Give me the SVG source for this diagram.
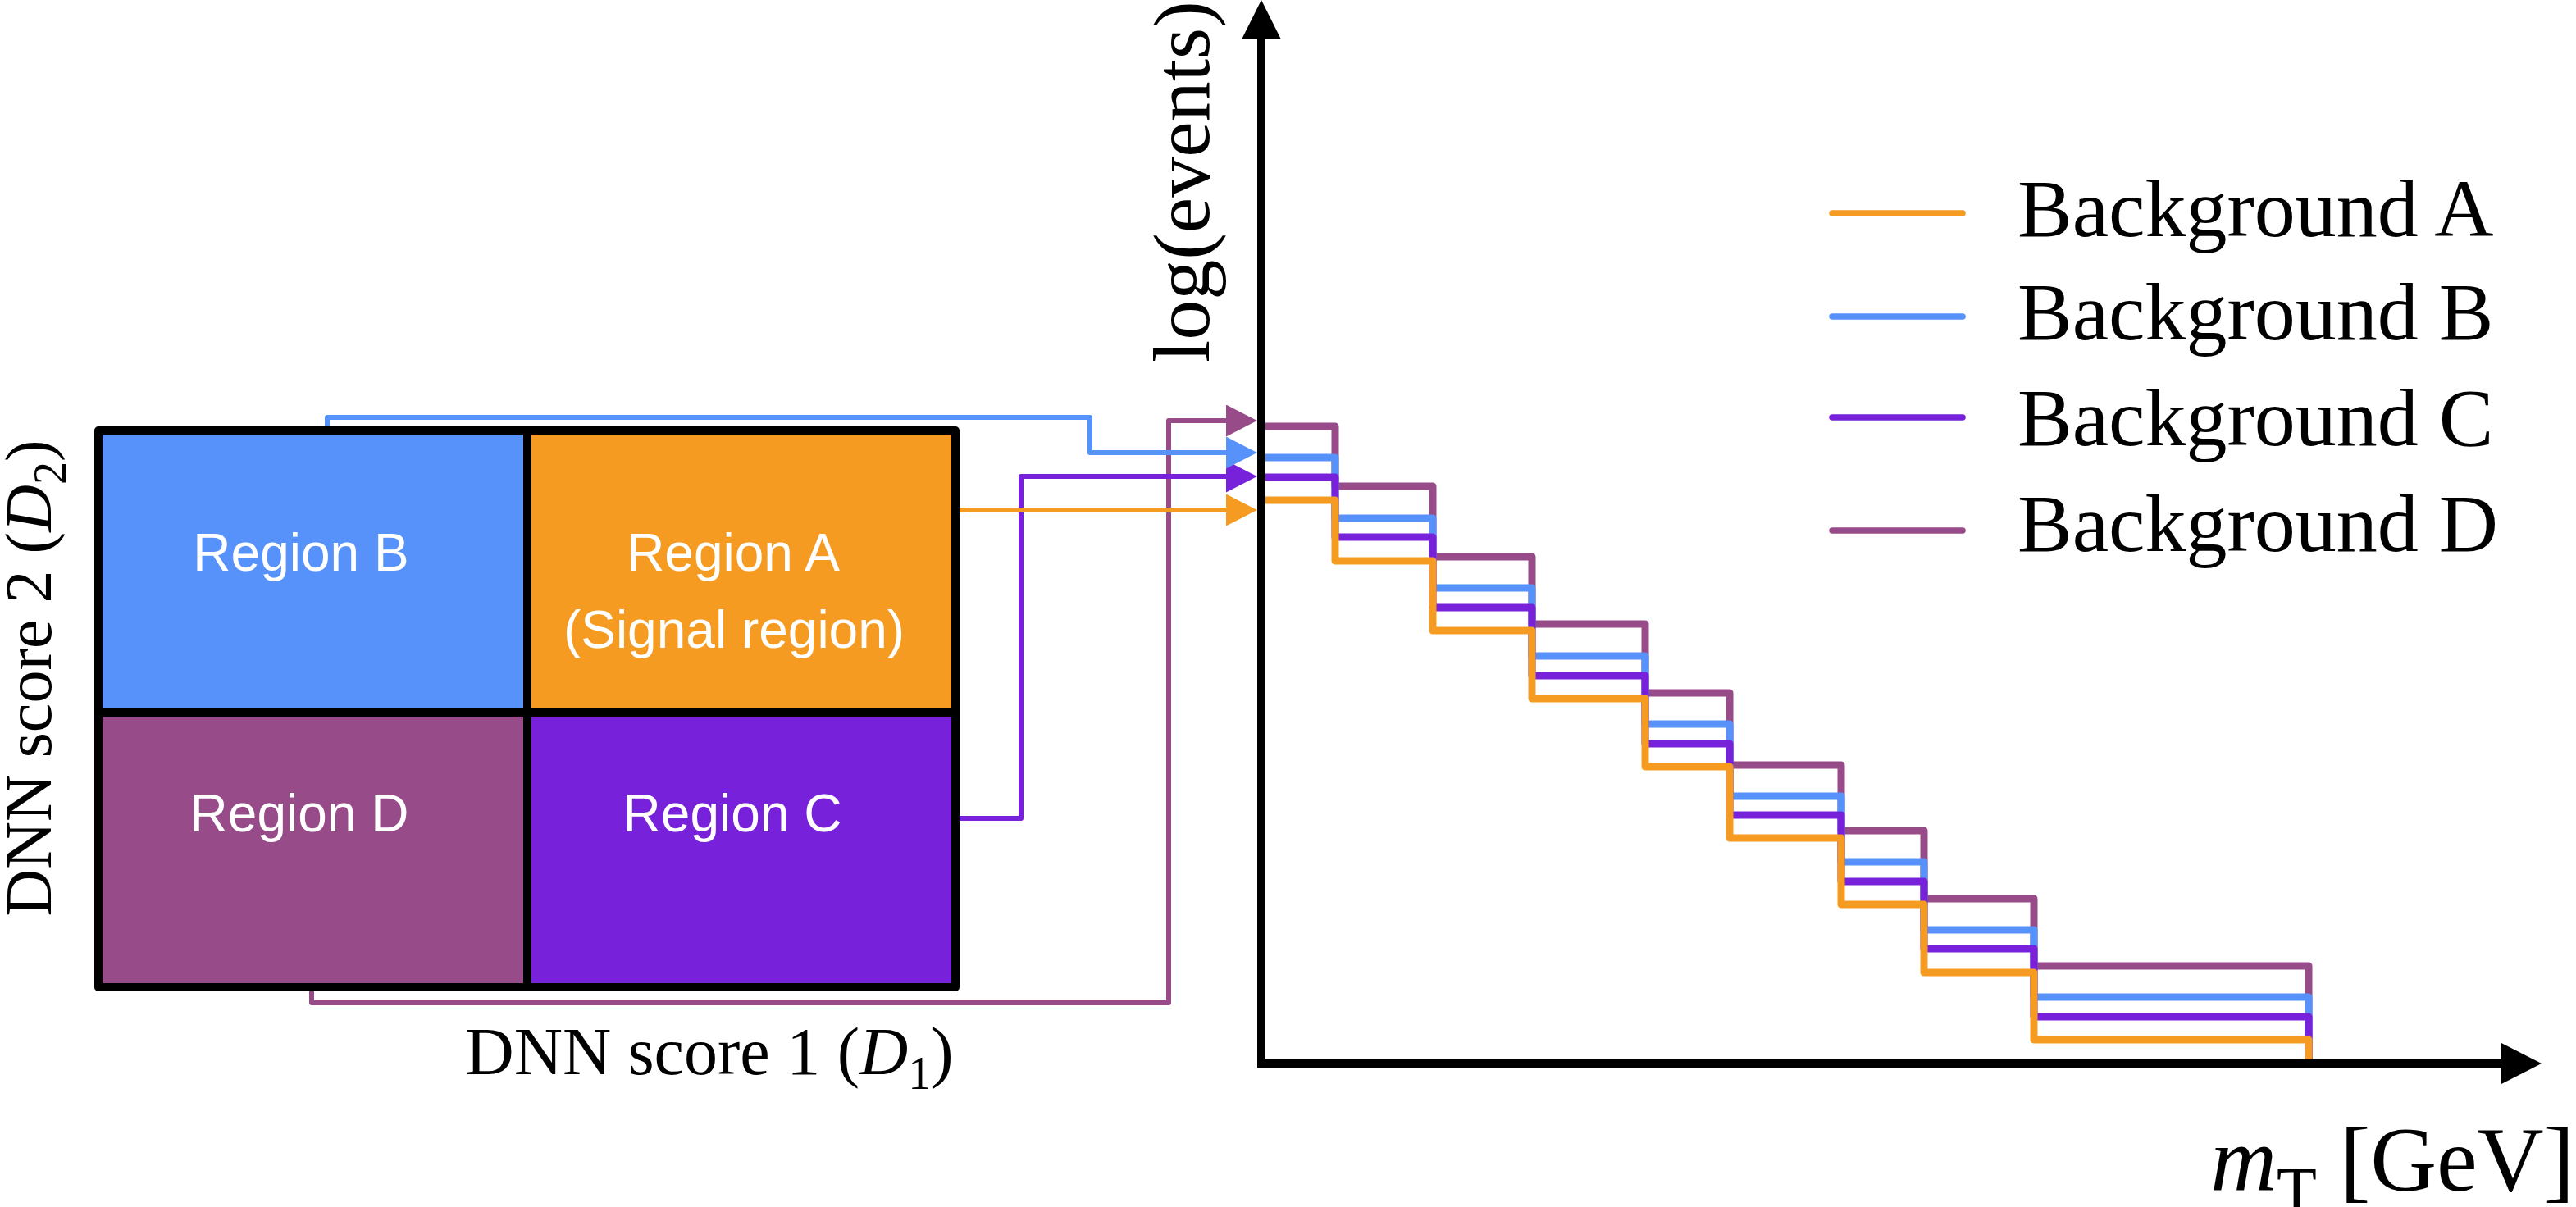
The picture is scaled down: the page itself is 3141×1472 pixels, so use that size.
<svg xmlns="http://www.w3.org/2000/svg" width="3141" height="1472" viewBox="0 0 3141 1472">
<style>
.rl{font-family:"Liberation Sans",Arial,sans-serif;font-size:64px;fill:#fff;text-anchor:middle}
.serif{font-family:"Liberation Serif","Times New Roman",serif;fill:#000}
.conn{fill:none;stroke-width:6;stroke-linejoin:round}
.hist{fill:none;stroke-width:9;stroke-linejoin:round;stroke-linecap:butt}
.leg{stroke-width:7.5;stroke-linecap:round}
.cA{stroke:#F59B22}.cB{stroke:#5692F9}.cC{stroke:#7722DA}.cD{stroke:#974B89}
</style>
<defs>
<marker id="arA" markerUnits="userSpaceOnUse" viewBox="0 0 38 39" refX="0" refY="19.5" markerWidth="38" markerHeight="39" orient="auto"><path d="M0,0 L38,19.5 L0,39 Z" fill="#F59B22"/></marker>
<marker id="arB" markerUnits="userSpaceOnUse" viewBox="0 0 38 39" refX="0" refY="19.5" markerWidth="38" markerHeight="39" orient="auto"><path d="M0,0 L38,19.5 L0,39 Z" fill="#5692F9"/></marker>
<marker id="arC" markerUnits="userSpaceOnUse" viewBox="0 0 38 39" refX="0" refY="19.5" markerWidth="38" markerHeight="39" orient="auto"><path d="M0,0 L38,19.5 L0,39 Z" fill="#7722DA"/></marker>
<marker id="arD" markerUnits="userSpaceOnUse" viewBox="0 0 38 39" refX="0" refY="19.5" markerWidth="38" markerHeight="39" orient="auto"><path d="M0,0 L38,19.5 L0,39 Z" fill="#974B89"/></marker>
</defs>
<rect width="3141" height="1472" fill="#fff"/>

<g id="connectors">
<path class="conn cD" d="M380,1206 V1223 H1425 V513 H1495" marker-end="url(#arD)"/>
<path class="conn cC" d="M1166,998 H1245 V581 H1495" marker-end="url(#arC)"/>
<path class="conn cB" d="M399,526 V509 H1329 V552 H1495" marker-end="url(#arB)"/>
<path class="conn cA" d="M1166,622 H1495" marker-end="url(#arA)"/>
</g>

<g id="region-grid">
<g id="region-b"><rect x="120" y="525" width="523" height="344" fill="#5692F9"/><text class="rl" x="367" y="696">Region B</text></g>
<g id="region-a"><rect x="643" y="525" width="522" height="344" fill="#F59B22"/><text class="rl" x="894" y="696">Region A</text><text class="rl" x="895" y="790">(Signal region)</text></g>
<g id="region-d"><rect x="120" y="869" width="523" height="335" fill="#974B89"/><text class="rl" x="365" y="1014">Region D</text></g>
<g id="region-c"><rect x="643" y="869" width="522" height="335" fill="#7722DA"/><text class="rl" x="893" y="1014">Region C</text></g>
<g id="grid-frame" fill="none" stroke="#000" stroke-width="10" stroke-linejoin="round">
<rect x="120" y="525" width="1045" height="679"/>
<line x1="643" y1="525" x2="643" y2="1204"/>
<line x1="120" y1="869" x2="1165" y2="869"/>
</g>
</g>

<g id="axis-labels-grid">
<text class="serif" font-size="82" x="865" y="1310" text-anchor="middle">DNN score 1 (<tspan font-style="italic">D</tspan><tspan font-size="56" dy="18">1</tspan><tspan dy="-18">)</tspan></text>
<text class="serif" font-size="80" transform="translate(62,827) rotate(-90)" text-anchor="middle">DNN score 2 (<tspan font-style="italic">D</tspan><tspan font-size="56" dy="18">2</tspan><tspan dy="-18">)</tspan></text>
</g>

<g id="histograms">
<path class="hist cD" d="M1542,520 H1628 V593 H1747 V679 H1868 V761 H2006 V845 H2109 V933 H2245 V1013 H2346 V1096 H2480 V1178 H2815 V1293"/>
<path class="hist cB" d="M1542,558 H1628 V632 H1747 V717 H1868 V800 H2006 V883 H2109 V971 H2245 V1051 H2346 V1134 H2480 V1216 H2815 V1293"/>
<path class="hist cC" d="M1542,582 H1628 V655 H1747 V741 H1868 V824 H2006 V907 H2109 V994 H2245 V1075 H2346 V1157 H2480 V1240 H2815 V1293"/>
<path class="hist cA" d="M1542,610 H1628 V684 H1747 V769 H1868 V852 H2006 V935 H2109 V1022 H2245 V1103 H2346 V1186 H2480 V1268 H2815 V1293"/>
</g>

<g id="plot-axes">
<line x1="1538" y1="40" x2="1538" y2="1302" stroke="#000" stroke-width="10"/>
<polygon points="1538,0 1514,48 1562,48" fill="#000"/>
<line x1="1533" y1="1297" x2="3055" y2="1297" stroke="#000" stroke-width="10"/>
<polygon points="3099,1297 3050,1272 3050,1322" fill="#000"/>
<text class="serif" font-size="98" transform="translate(1474,442) rotate(-90)">log(events)</text>
<text class="serif" font-size="112" x="3139" y="1452" text-anchor="end"><tspan font-style="italic">m</tspan><tspan font-size="80" dy="27">T</tspan><tspan dy="-27"> [GeV]</tspan></text>
</g>

<g id="legend">
<g id="legend-a"><line class="leg cA" x1="2234" y1="260" x2="2393" y2="260"/><text class="serif" font-size="100" x="2460" y="288">Background A</text></g>
<g id="legend-b"><line class="leg cB" x1="2234" y1="386" x2="2393" y2="386"/><text class="serif" font-size="100" x="2460" y="414">Background B</text></g>
<g id="legend-c"><line class="leg cC" x1="2234" y1="509" x2="2393" y2="509"/><text class="serif" font-size="100" x="2460" y="543">Background C</text></g>
<g id="legend-d"><line class="leg cD" x1="2234" y1="647" x2="2393" y2="647"/><text class="serif" font-size="100" x="2460" y="672">Background D</text></g>
</g>
</svg>
